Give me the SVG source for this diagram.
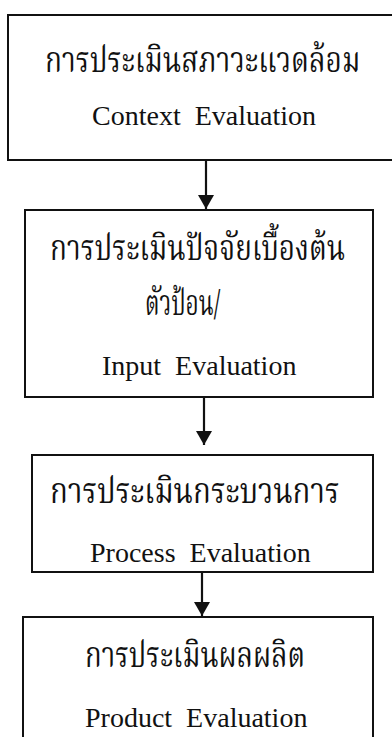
<svg xmlns="http://www.w3.org/2000/svg" width="392" height="737" viewBox="0 0 392 737">
<style>
.box{fill:#fff;stroke:#111;stroke-width:2}
.th{font-family:"Noto Serif Thai","Noto Sans Thai Looped","Noto Sans Thai","Noto Sans","DejaVu Sans",sans-serif;font-size:35px;fill:#111}
.en{font-family:"Liberation Serif","Times New Roman",serif;font-size:28px;fill:#111;white-space:pre}
.conn{stroke:#111;stroke-width:2.2;fill:none}
</style>
<defs>
<marker id="ah" viewBox="0 0 14 16" refX="14" refY="8" markerWidth="14" markerHeight="16" markerUnits="userSpaceOnUse" orient="auto">
<path d="M0,0 L14,8 L0,16 z" fill="#111"/>
</marker>
</defs>
<rect width="392" height="737" fill="#fff"/>
<g id="connectors">
<line class="conn" x1="206" y1="160" x2="206" y2="209" marker-end="url(#ah)"/>
<line class="conn" x1="204" y1="397" x2="204" y2="445" marker-end="url(#ah)"/>
<line class="conn" x1="202" y1="572" x2="202" y2="616" marker-end="url(#ah)"/>
</g>
<g id="context">
<rect class="box" x="8" y="15" width="392" height="145"/>
<text class="th" transform="translate(45 72) scale(0.8 1)" textLength="394" lengthAdjust="spacingAndGlyphs">การประเมินสภาวะแวดล้อม</text>
<text class="en" x="92" y="125">Context  Evaluation</text>
</g>
<g id="input">
<rect class="box" x="25" y="210" width="348" height="187"/>
<text class="th" transform="translate(50 260) scale(0.8 1)" textLength="369" lengthAdjust="spacingAndGlyphs">การประเมินปัจจัยเบื้องต้น</text>
<text class="th" transform="translate(145 315) scale(0.8 1)" textLength="94" lengthAdjust="spacingAndGlyphs">ตัวป้อน/</text>
<text class="en" x="102" y="375">Input  Evaluation</text>
</g>
<g id="process">
<rect class="box" x="32" y="455" width="341" height="117"/>
<text class="th" transform="translate(50 503) scale(0.8 1)" textLength="362" lengthAdjust="spacingAndGlyphs">การประเมินกระบวนการ</text>
<text class="en" x="90" y="562">Process  Evaluation</text>
</g>
<g id="product">
<rect class="box" x="23" y="617" width="350" height="140"/>
<text class="th" transform="translate(85 667) scale(0.8 1)" textLength="275" lengthAdjust="spacingAndGlyphs">การประเมินผลผลิต</text>
<text class="en" x="85" y="727">Product  Evaluation</text>
</g>
</svg>
